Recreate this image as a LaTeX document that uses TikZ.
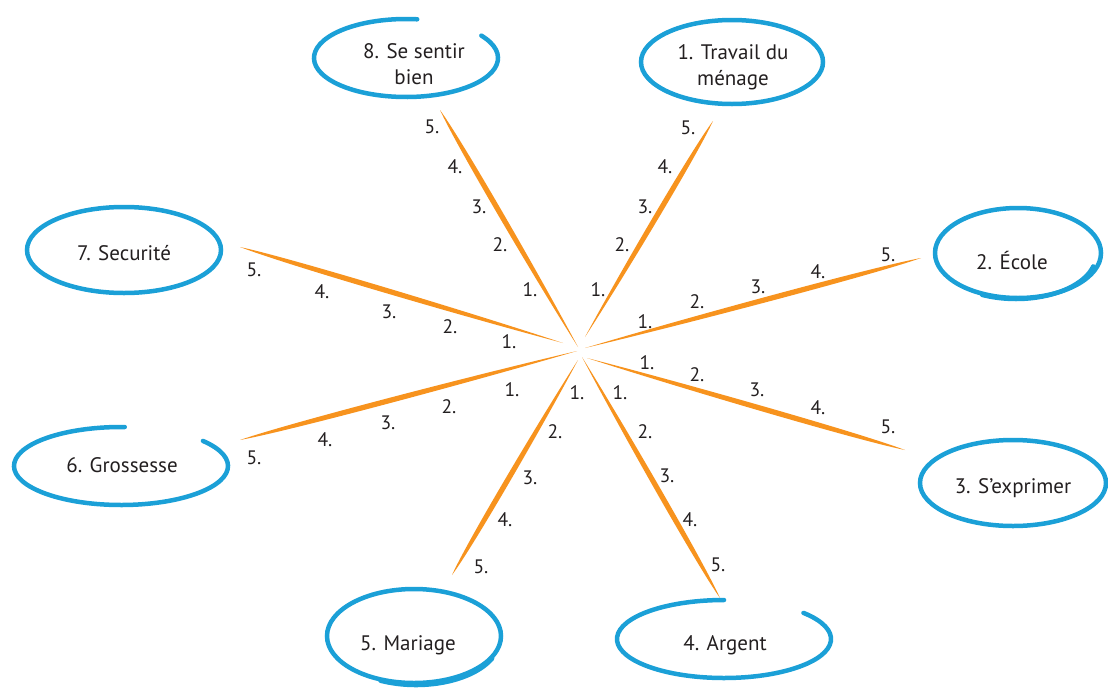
\documentclass[tikz,border=0pt]{standalone}
\usepackage{fontspec}
\setmainfont{PT Sans}
\usetikzlibrary{calc}
\definecolor{brushblue}{HTML}{1BA0D7}
\definecolor{spokeorange}{HTML}{F7931E}
\definecolor{txt}{HTML}{231F20}
\newcommand\drawspoke[2]{%
  \fill[spokeorange] (#1)
    .. controls ($(#1)!0.3!(#2)!3.0pt!90:(#2)$) and ($(#1)!0.85!(#2)!4.0pt!90:(#2)$) .. (#2)
    .. controls ($(#1)!0.85!(#2)!4.0pt!-90:(#2)$) and ($(#1)!0.3!(#2)!3.0pt!-90:(#2)$) .. (#1) -- cycle;}
\begin{document}
\begin{tikzpicture}[x=1pt,y=-1pt,
  ring/.style={draw=brushblue,line width=4.5pt,line cap=round},
  lbl/.style={text=txt,font=\fontsize{21}{26}\selectfont,align=center,inner sep=0pt},
  num/.style={text=txt,font=\fontsize{19.5}{21}\selectfont,inner sep=0pt}]
\useasboundingbox (0,0) rectangle (1108,691);

% spoke end points
\coordinate (i8) at (578,347); \coordinate (o8) at (440,110);
\coordinate (i1) at (585,337); \coordinate (o1) at (713,121);
\coordinate (i2) at (585,348); \coordinate (o2) at (921,258);
\coordinate (i3) at (587,358); \coordinate (o3) at (905,450);
\coordinate (i4) at (582,357); \coordinate (o4) at (720,598);
\coordinate (i5) at (578,360); \coordinate (o5) at (452,575);
\coordinate (i6) at (577,351); \coordinate (o6) at (240,440);
\coordinate (i7) at (563,343); \coordinate (o7) at (240,247);

\foreach \s in {1,...,8} {\drawspoke{i\s}{o\s}}

% brush ellipses
\draw[ring] ($(406,58)+(-35:92 and 39)$) arc[start angle=-35,end angle=277,x radius=92,y radius=39];
\draw[ring] (732,62) ellipse [x radius=91, y radius=42];
\draw[ring] (1018,253) ellipse [x radius=83, y radius=45];
\draw[ring] ($(1016,255)+(15:80 and 44)$) arc[start angle=15,end angle=115,x radius=80,y radius=44];
\draw[ring] (1013,483) ellipse [x radius=93, y radius=43];
\draw[ring] ($(724,639)+(-42:107 and 39)$) arc[start angle=-42,end angle=270,x radius=107,y radius=39];
\draw[ring] (414,636) ellipse [x radius=87, y radius=47];
\draw[ring] ($(416,639)+(25:84 and 46)$) arc[start angle=25,end angle=115,x radius=84,y radius=46];
\draw[ring] ($(121,466)+(-40:107 and 39)$) arc[start angle=-40,end angle=272,x radius=107,y radius=39];
\draw[ring] (124,250) ellipse [x radius=97, y radius=43];

% ellipse texts
\node[lbl] (t8) at (414,64) {8. Se sentir\\bien};
\node[lbl] (t1) at (733,67) {1. Travail du\\ménage};
\node[lbl] (t2) at (1012,260) {2. École};
\node[lbl] (t3) at (1013,488) {3. S’exprimer};
\node[lbl] (t4) at (725,645) {4. Argent};
\node[lbl] (t5) at (408,645) {5. Mariage};
\node[lbl] (t6) at (122,465) {6. Grossesse};
\node[lbl] (t7) at (124,253) {7. Securité};

% scale numbers
\foreach \k/\x/\y in {5/432/127,4/455/167,3/479/207,2/500/245,1/530/290}
  \node[num] (n8-\k) at (\x,\y) {\k.};
\foreach \k/\x/\y in {5/688/128,4/665/167,3/645/207,2/622/245,1/598/290}
  \node[num] (n1-\k) at (\x,\y) {\k.};
\foreach \k/\x/\y in {1/645/322,2/697/302,3/758/287,4/818/272,5/888/255}
  \node[num] (n2-\k) at (\x,\y) {\k.};
\foreach \k/\x/\y in {1/647/363,2/697/375,3/757/390,4/818/408,5/888/427}
  \node[num] (n3-\k) at (\x,\y) {\k.};
\foreach \k/\x/\y in {1/620/393,2/645/432,3/667/476,4/690/520,5/718/565}
  \node[num] (n4-\k) at (\x,\y) {\k.};
\foreach \k/\x/\y in {1/577/393,2/555/432,3/530/478,4/505/520,5/481/567}
  \node[num] (n5-\k) at (\x,\y) {\k.};
\foreach \k/\x/\y in {1/512/390,2/449/407,3/388/423,4/325/440,5/254/458}
  \node[num] (n6-\k) at (\x,\y) {\k.};
\foreach \k/\x/\y in {1/509/342,2/450/327,3/389/312,4/322/292,5/254/270}
  \node[num] (n7-\k) at (\x,\y) {\k.};
\end{tikzpicture}
\end{document}
